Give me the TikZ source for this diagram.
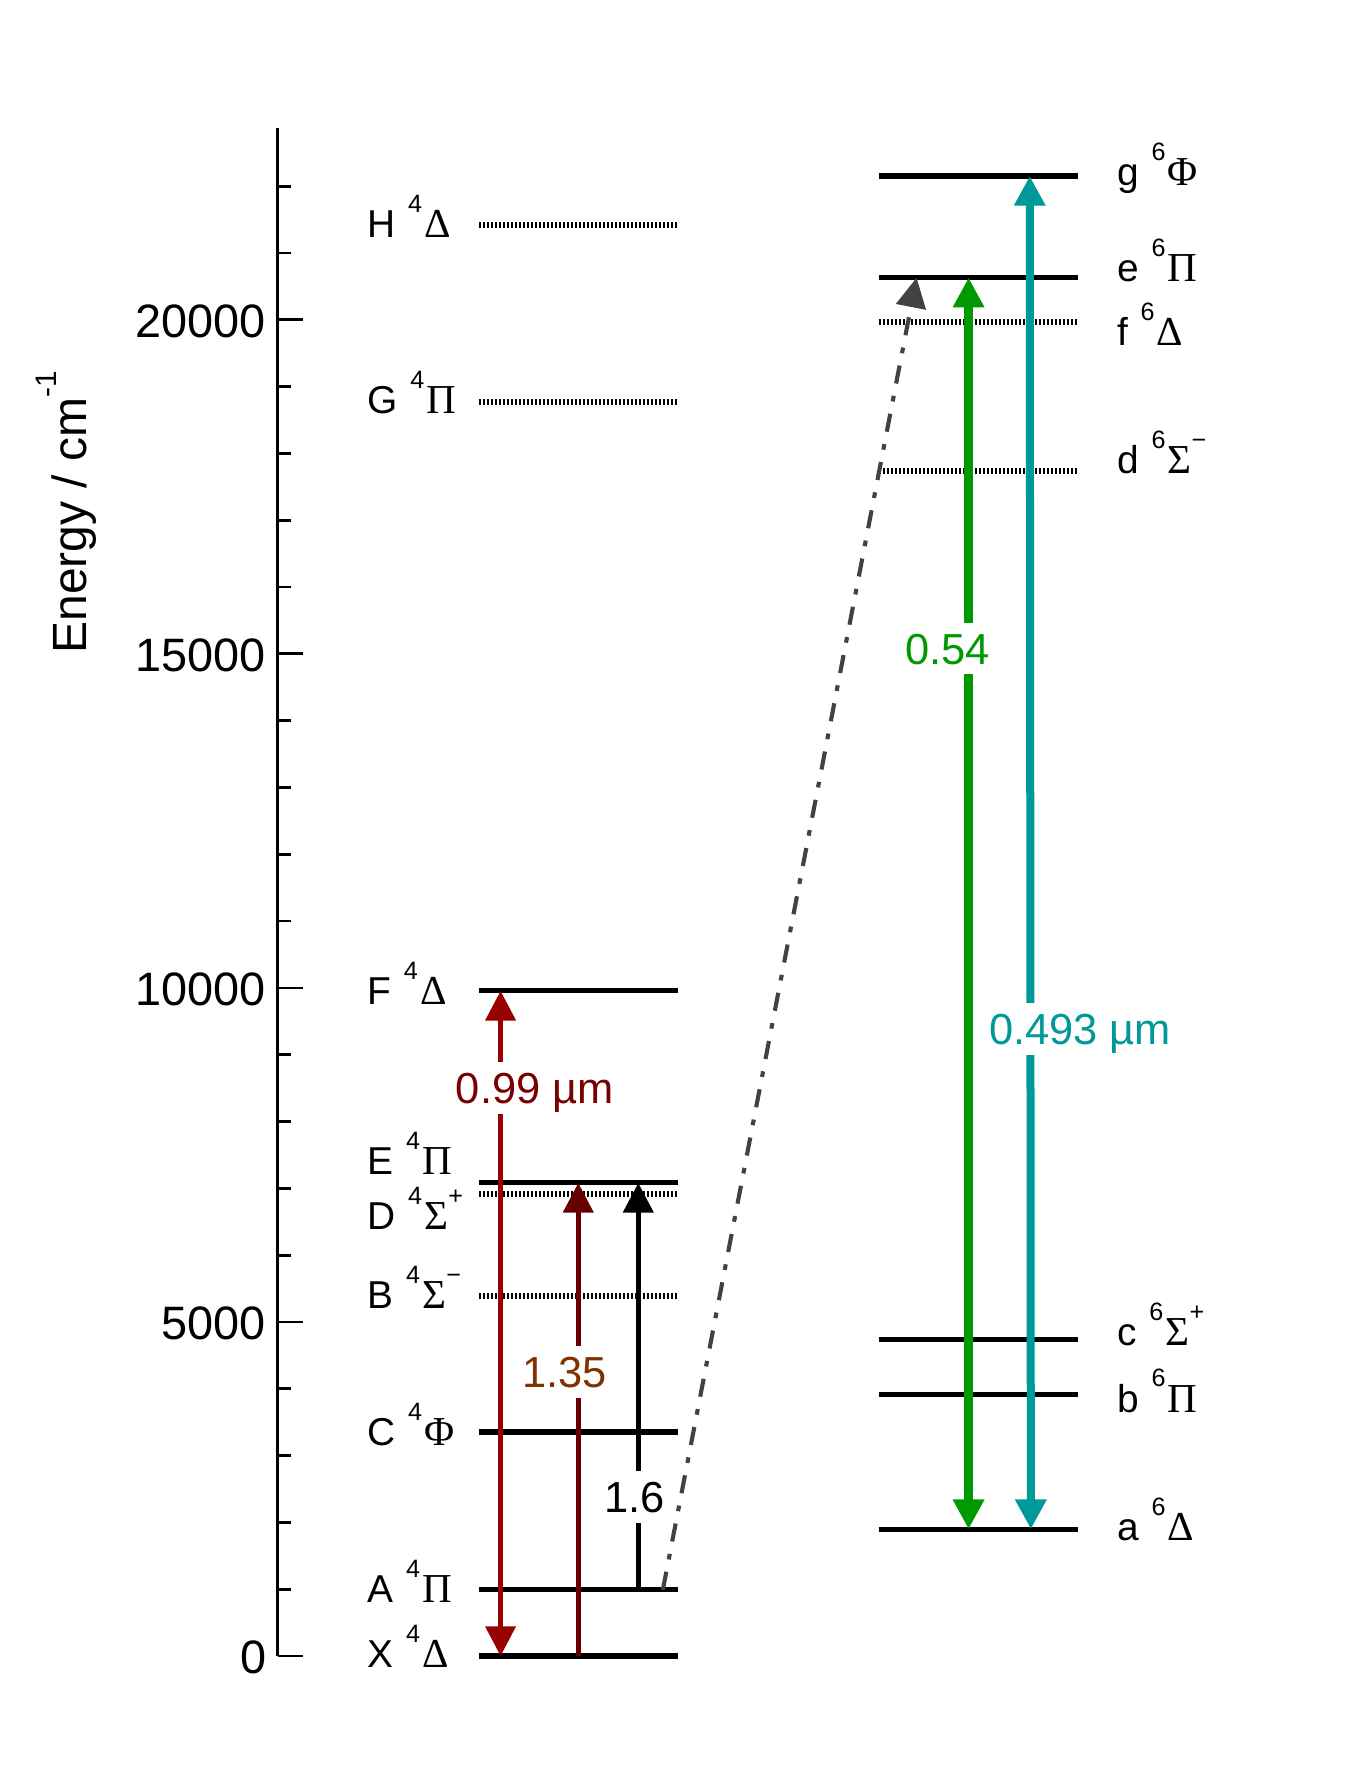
\documentclass[tikz,border=0pt]{standalone}
\usepackage{fontspec}
\setmainfont{Liberation Sans}
\newfontfamily\grk{Liberation Serif}
\usetikzlibrary{arrows.meta}
\definecolor{cRed}{HTML}{990000}
\definecolor{cRedT}{HTML}{780000}
\definecolor{cMar}{HTML}{660000}
\definecolor{cBrn}{HTML}{803300}
\definecolor{cGrn}{HTML}{009900}
\definecolor{cTeal}{HTML}{009999}
\definecolor{cGry}{HTML}{424242}
\newcommand{\supx}[1]{\raisebox{22pt}{\fontsize{22}{22}\selectfont #1}}
\newcommand{\stlab}[4]{#1\ \kern1.5pt\supx{#2}\kern2pt{\grk\fontsize{36}{40}\selectfont #3}\supx{#4}}
\begin{document}
\begin{tikzpicture}[x=1pt,y=-1pt,
  >={Triangle[width=26pt,length=26pt]},
  lev/.style={line width=4.5pt},
  dlev/.style={line width=5pt,dash pattern=on 1.8pt off 1.7pt},
  stl/.style={anchor=base west,inner sep=0pt,font=\fontsize{34}{40}\selectfont},
  tkl/.style={anchor=east,inner sep=0pt,font=\fontsize{41}{48}\selectfont},
  axl/.style={line width=2.4pt},
  trl/.style={fill=white,inner xsep=2pt,inner ysep=9pt,text height=27.2pt,text depth=0pt,font=\fontsize{38}{44}\selectfont}
]
\useasboundingbox (0,0) rectangle (1192,1568);
% axis
\coordinate (axtop) at (243,112);
\coordinate (axbot) at (243,1449);
\draw[axl] (axtop) -- (axbot);
\foreach \k in {1,2,3,4,6,7,8,9,11,12,13,14,16,17,18,19,21,22}{
  \pgfmathsetmacro\yy{1449-58.46*\k}
  \coordinate (mt\k) at (243,\yy);
  \draw[axl] (mt\k) -- ++(12,0);
}
\foreach \k/\lab in {0/0,5/5000,10/10000,15/15000,20/20000}{
  \pgfmathsetmacro\yy{1449-58.46*\k}
  \coordinate (Mt\k) at (243,\yy);
  \draw[axl] (Mt\k) -- ++(22,0);
  \node[tkl] (tl\k) at (233,\yy+1) {\lab};
}
\node[rotate=90,anchor=base west,inner sep=0pt,font=\fontsize{42}{48}\selectfont] (ylab) at (76,572) {Energy / cm\raisebox{27pt}{\fontsize{26}{26}\selectfont -1}};

% left levels
\foreach \n/\y in {X/1449,A/1391,C/1253,E/1035,F/867}{
  \coordinate (\n l) at (419,\y); \coordinate (\n r) at (593,\y);
  \draw[lev] (\n l) -- (\n r);
}
\foreach \n/\y in {B/1134,D/1045,G/352,H/197}{
  \coordinate (\n l) at (419,\y); \coordinate (\n r) at (593,\y);
  \draw[dlev] (\n l) -- (\n r);
}
% right levels
\foreach \n/\y in {g/154,e/243,c/1172,b/1220,a/1338}{
  \coordinate (\n l) at (769,\y); \coordinate (\n r) at (943,\y);
  \draw[lev] (\n l) -- (\n r);
}
\foreach \n/\y in {f/282,d/412}{
  \coordinate (\n l) at (769,\y); \coordinate (\n r) at (943,\y);
  \draw[dlev] (\n l) -- (\n r);
}

% state labels left
\node[stl] (lH) at (321.5,208) {\stlab{H}{4}{Δ}{}};
\node[stl] (lG) at (321.5,362) {\stlab{G}{4}{Π}{}};
\node[stl] (lF) at (321.5,879) {\stlab{F}{4}{Δ}{}};
\node[stl] (lE) at (321.5,1028) {\stlab{E}{4}{Π}{}};
\node[stl] (lD) at (321.5,1076) {\stlab{D}{4}{Σ}{+}};
\node[stl] (lB) at (321.5,1145) {\stlab{B}{4}{Σ}{−}};
\node[stl] (lC) at (321.5,1265) {\stlab{C}{4}{Φ}{}};
\node[stl] (lA) at (321.5,1402) {\stlab{A}{4}{Π}{}};
\node[stl] (lX) at (321.5,1459) {\stlab{X}{4}{Δ}{}};
% state labels right
\node[stl] (rg) at (977.5,162) {\stlab{g}{6}{Φ}{}};
\node[stl] (re) at (977.5,246.5) {\stlab{e}{6}{Π}{}};
\node[stl] (rf) at (977.5,302) {\stlab{f}{6}{Δ}{}};
\node[stl] (rd) at (977.5,414) {\stlab{d}{6}{Σ}{−}};
\node[stl] (rc) at (977.5,1177) {\stlab{c}{6}{Σ}{+}};
\node[stl] (rb) at (977.5,1235.5) {\stlab{b}{6}{Π}{}};
\node[stl] (ra) at (977.5,1348) {\stlab{a}{6}{Δ}{}};

% arrows
\coordinate (r1) at (438,867); \coordinate (r2) at (438,1449);
\draw[cRed,line width=4.4pt,<->] (r1) -- (r2);
\coordinate (m1) at (506,1449); \coordinate (m2) at (506,1035);
\draw[cMar,line width=4.4pt,->] (m1) -- (m2);
\coordinate (k1) at (558.5,1391); \coordinate (k2) at (558.5,1035);
\draw[black,line width=4.4pt,->] (k1) -- (k2);
\coordinate (g1) at (847.5,243); \coordinate (g2) at (847.5,1338);
\draw[cGrn,line width=8.2pt,<->] (g1) -- (g2);
\coordinate (t1) at (901,154); \coordinate (t2) at (902,1338);
\draw[cTeal,line width=7pt,<->] (t1) -- (t2);
\coordinate (d1) at (580,1391); \coordinate (d2) at (802,243);
\draw[cGry,line width=3.6pt,dash pattern=on 16pt off 11pt on 5pt off 11pt,->] (d1) -- (d2);

% transition labels
\node[trl,text=cRedT] (w1) at (468,952) {0.99 µm};
\node[trl,text=cBrn] (w2) at (494,1200.5) {1.35};
\node[trl,text=black] (w3) at (555,1310) {1.6};
\node[trl,text=cGrn] (w4) at (829,567.5) {0.54};
\node[trl,text=cTeal] (w5) at (945,900.3) {0.493 µm};
\end{tikzpicture}
\end{document}
